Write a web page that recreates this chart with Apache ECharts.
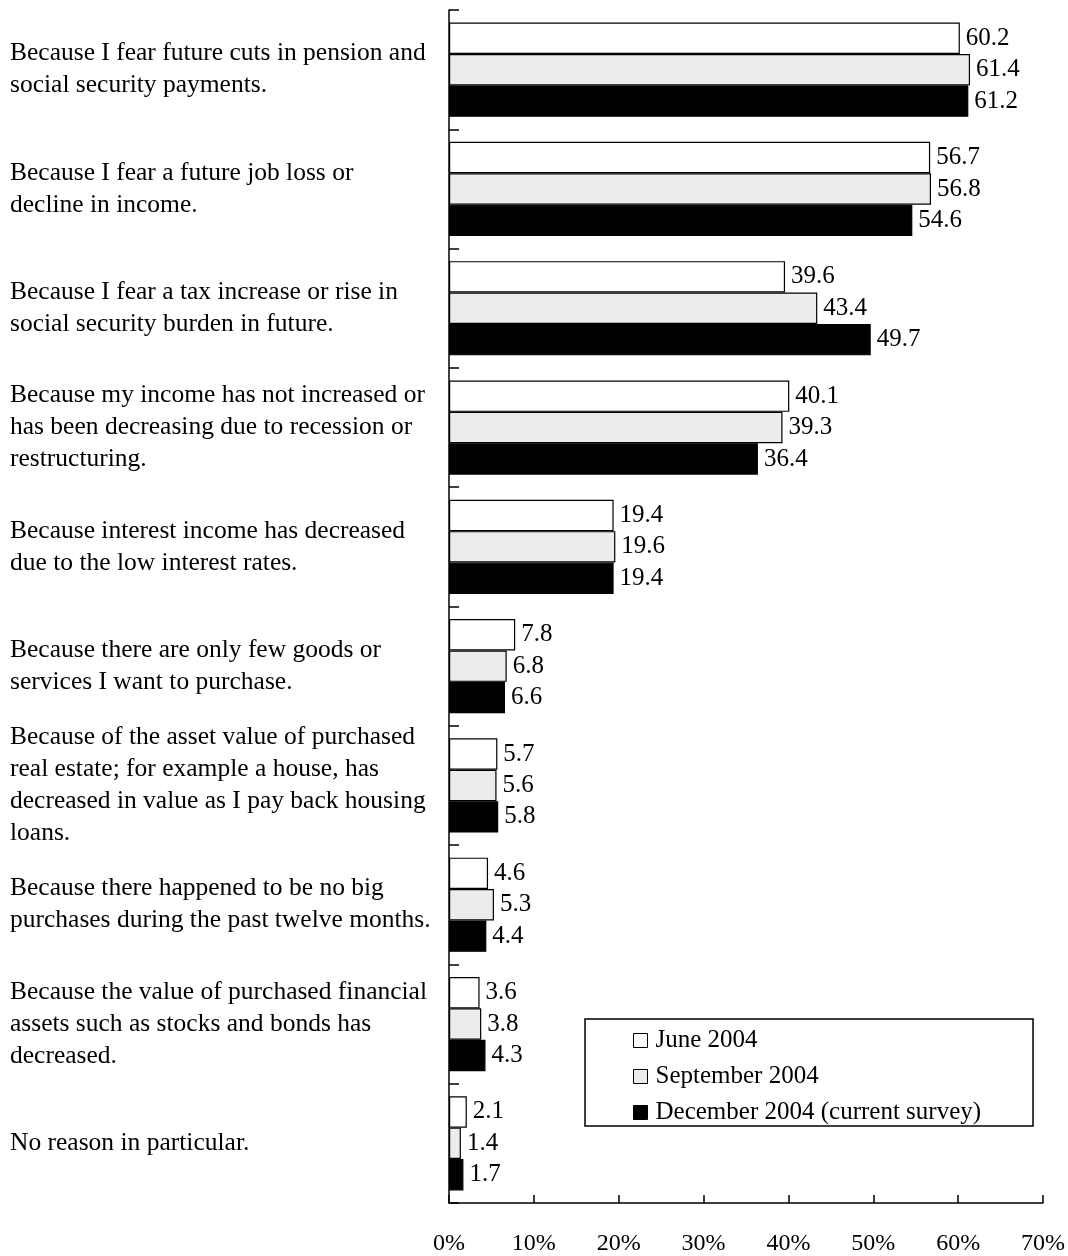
<!DOCTYPE html>
<html>
<head>
<meta charset="utf-8">
<script src="https://cdn.jsdelivr.net/npm/echarts@6/dist/echarts.min.js"></script>
<style>
html,body{margin:0;padding:0;background:#fff;}
#chart{width:1068px;height:1256px;}
</style>
</head>
<body>
<div id="chart"></div>
<script>
var categories = [
  "Because I fear future cuts in pension and\nsocial security payments.",
  "Because I fear a future job loss or\ndecline in income.",
  "Because I fear a tax increase or rise in\nsocial security burden in future.",
  "Because my income has not increased or\nhas been decreasing due to recession or\nrestructuring.",
  "Because interest income has decreased\ndue to the low interest rates.",
  "Because there are only few goods or\nservices I want to purchase.",
  "Because of the asset value of purchased\nreal estate; for example a house, has\ndecreased in value as I pay back housing\nloans.",
  "Because there happened to be no big\npurchases during the past twelve months.",
  "Because the value of purchased financial\nassets such as stocks and bonds has\ndecreased.",
  "No reason in particular."
];
var seriesNames = ["June 2004", "September 2004", "December 2004 (current survey)"];
var june2004 = [60.2, 56.7, 39.6, 40.1, 19.4, 7.8, 5.7, 4.6, 3.6, 2.1];
var sep2004 = [61.4, 56.8, 43.4, 39.3, 19.6, 6.8, 5.6, 5.3, 3.8, 1.4];
var dec2004 = [61.2, 54.6, 49.7, 36.4, 19.4, 6.6, 5.8, 4.4, 4.3, 1.7];
var xTicks = [0, 10, 20, 30, 40, 50, 60, 70];

var FONT = "'Liberation Serif', 'Times New Roman', serif";
var chart = echarts.init(document.getElementById('chart'), null, {renderer: 'canvas'});

function mkSeries(name, data, fill) {
  return {
    name: name,
    type: 'bar',
    data: data,
    barGap: '0%',
    barCategoryGap: '21%',
    itemStyle: {color: fill, borderColor: '#000', borderWidth: 1.2},
    label: {
      show: true, position: 'right', distance: 6,
      color: '#000', fontFamily: FONT, fontSize: 25,
      formatter: function (p) { return p.value.toFixed(1); }
    },
    animation: false
  };
}

chart.setOption({
  backgroundColor: '#fff',
  animation: false,
  textStyle: {fontFamily: FONT},
  grid: {left: 449, right: 24, top: 10, bottom: 52, containLabel: false},
  xAxis: {
    type: 'value', min: xTicks[0], max: xTicks[xTicks.length - 1], interval: 10,
    axisLine: {show: true, lineStyle: {color: '#000', width: 1.5}},
    axisTick: {show: true, inside: true, length: 8, lineStyle: {color: '#000', width: 1.5}},
    splitLine: {show: false},
    axisLabel: {
      color: '#000', fontFamily: FONT, fontSize: 24, margin: 29,
      formatter: function (v) { return v + '%'; }
    }
  },
  yAxis: {
    type: 'category', data: categories, inverse: true,
    axisLine: {show: true, lineStyle: {color: '#000', width: 1.5}},
    axisTick: {show: true, inside: true, length: 10, lineStyle: {color: '#000', width: 1.5}},
    axisLabel: {
      color: '#000', fontFamily: FONT, fontSize: 25.5, lineHeight: 32,
      align: 'left', margin: 439
    }
  },
  legend: {
    orient: 'vertical', left: 633, top: 1028, padding: 0,
    itemWidth: 14, itemHeight: 14, itemGap: 11,
    textStyle: {color: '#000', fontFamily: FONT, fontSize: 25, padding: [0, 0, 0, 3]},
    data: [
      {name: seriesNames[0], icon: 'rect', itemStyle: {color: '#fff', borderColor: '#000', borderWidth: 1}},
      {name: seriesNames[1], icon: 'rect', itemStyle: {color: '#ececec', borderColor: '#000', borderWidth: 1}},
      {name: seriesNames[2], icon: 'rect', itemStyle: {color: '#000', borderColor: '#000', borderWidth: 1}}
    ]
  },
  graphic: [{
    type: 'rect', z: 1,
    shape: {x: 585, y: 1019, width: 448, height: 107},
    style: {fill: '#fff', stroke: '#000', lineWidth: 1.5}
  }],
  series: [
    mkSeries(seriesNames[0], june2004, '#ffffff'),
    mkSeries(seriesNames[1], sep2004, '#ececec'),
    mkSeries(seriesNames[2], dec2004, '#000000')
  ]
});
</script>
</body>
</html>
